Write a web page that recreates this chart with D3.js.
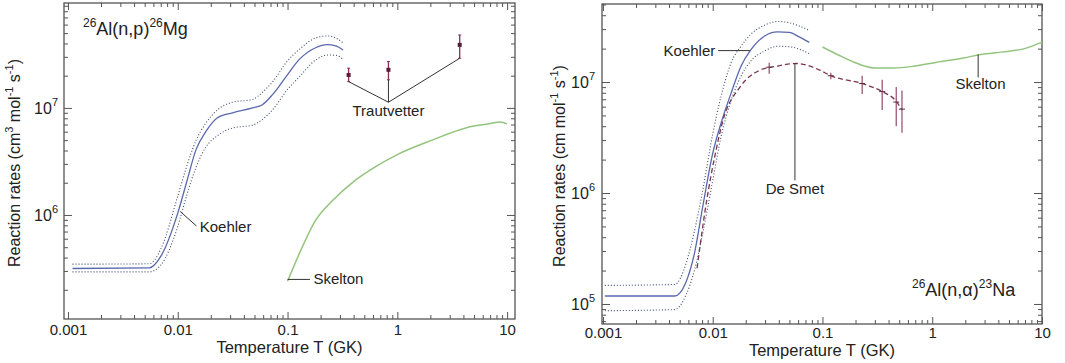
<!DOCTYPE html>
<html>
<head>
<meta charset="utf-8">
<script src="https://cdn.jsdelivr.net/npm/d3@7"></script>
<style>
  body { margin: 0; background: #fff; }
  svg { display: block; font-family: "Liberation Sans", Arial, Helvetica, sans-serif; }
</style>
</head>
<body>
<svg id="chart" width="1065" height="363"></svg>
<script>
// ---- axis ticks ----
const tempTicks = [0.001, 0.01, 0.1, 1, 10];
const tempTickLabels = ['0.001', '0.01', '0.1', '1', '10'];

// ---- 26Al(n,p)26Mg ----
const npKoehlerT = [0.0011, 0.0055, 0.007, 0.01, 0.012, 0.0147, 0.018, 0.023, 0.0316, 0.048, 0.059, 0.073, 0.1, 0.128, 0.18, 0.23, 0.275, 0.32];
const npKoehlerRate = [3.16e5, 3.2e5, 4.1e5, 1.04e6, 2.0e6, 4.1e6, 6.0e6, 8.1e6, 9.0e6, 1.0e7, 1.07e7, 1.33e7, 2.05e7, 2.84e7, 3.65e7, 3.9e7, 3.8e7, 3.47e7];
const npKoehlerHigh = [3.47e5, 3.5e5, 4.8e5, 1.5e6, 2.8e6, 5.0e6, 7.2e6, 9.6e6, 1.13e7, 1.2e7, 1.4e7, 1.75e7, 2.75e7, 3.52e7, 4.5e7, 4.7e7, 4.5e7, 4.05e7];
const npKoehlerLow = [2.94e5, 2.94e5, 3.4e5, 7.8e5, 1.5e6, 2.8e6, 4.3e6, 5.5e6, 6.5e6, 6.9e6, 7.8e6, 9.6e6, 1.49e7, 1.95e7, 2.8e7, 3.12e7, 3.1e7, 2.84e7];
const npSkeltonT = [0.1, 0.128, 0.18, 0.26, 0.4, 0.64, 1.03, 2.07, 4.2, 6.8, 8.7, 10];
const npSkeltonRate = [2.4e5, 4.35e5, 8.9e5, 1.38e6, 2.05e6, 2.84e6, 3.72e6, 5.0e6, 6.5e6, 7.1e6, 7.4e6, 7.1e6];
const npTrautT = [0.36, 0.83, 3.7];
const npTrautRate = [2.03e7, 2.27e7, 3.88e7];
const npTrautLow = [1.76e7, 1.83e7, 2.91e7];
const npTrautHigh = [2.35e7, 2.71e7, 4.8e7];

// ---- 26Al(n,a)23Na ----
const naKoehlerT = [0.00104, 0.0045, 0.0057, 0.0068, 0.0081, 0.01, 0.0119, 0.0147, 0.0181, 0.0223, 0.0295, 0.039, 0.0498, 0.0614, 0.0757];
const naKoehlerRate = [1.18e5, 1.18e5, 1.57e5, 2.83e5, 7.5e5, 2.28e6, 4.25e6, 7.95e6, 1.39e7, 1.96e7, 2.59e7, 2.83e7, 2.8e7, 2.55e7, 2.28e7];
const naKoehlerHigh = [1.47e5, 1.5e5, 2.3e5, 4.5e5, 1.05e6, 3.4e6, 7.4e6, 1.49e7, 2.1e7, 2.7e7, 3.25e7, 3.51e7, 3.42e7, 3.2e7, 2.93e7];
const naKoehlerLow = [8.7e4, 8.9e4, 1.2e5, 2.0e5, 4.3e5, 1.3e6, 3.2e6, 6.8e6, 1.13e7, 1.55e7, 1.9e7, 2.1e7, 2.08e7, 1.98e7, 1.8e7];
const naDeSmetT = [0.0072, 0.0088, 0.0105, 0.0124, 0.0177, 0.0269, 0.0369, 0.058, 0.0946, 0.119, 0.23, 0.35, 0.47, 0.53];
const naDeSmetRate = [2.1e5, 8.5e5, 2.2e6, 4.5e6, 9.0e6, 1.28e7, 1.38e7, 1.47e7, 1.28e7, 1.14e7, 9.7e6, 8.2e6, 6.7e6, 5.6e6];
const naDeSmetErrT = [0.0327, 0.119, 0.23, 0.35, 0.47, 0.53];
const naDeSmetErrRate = [1.36e7, 1.14e7, 9.7e6, 8.2e6, 6.6e6, 5.7e6];
const naDeSmetErrLow = [1.19e7, 1.06e7, 7.8e6, 5.6e6, 4.0e6, 3.5e6];
const naDeSmetErrHigh = [1.49e7, 1.21e7, 1.14e7, 1.05e7, 9.0e6, 8.4e6];
const naSkeltonT = [0.1, 0.137, 0.194, 0.295, 0.45, 0.68, 1.1, 1.94, 2.75, 4.4, 6.8, 10];
const naSkeltonRate = [2.07e7, 1.77e7, 1.51e7, 1.34e7, 1.34e7, 1.39e7, 1.51e7, 1.65e7, 1.77e7, 1.87e7, 1.99e7, 2.29e7];

const zip = (xs, ys) => xs.map((v, i) => [v, ys[i]]);

const panels = [
  {
    left: 64, right: 515, top: 3, bottom: 319,
    xDomain: [0.00092, 11.8], yDomain: [1.067e5, 9.55e7],
    xPad: 5, yLabelGap: 6, xTitleY: 353, yTitleX: 20,
    yTitle: [['Reaction rates (cm', 0], ['3', 1], [' mol', 0], ['-1', 1], [' s', 0], ['-1', 1], [')', 0]],
    title: { x: 83, y: 35, parts: [['26', 1], ['Al(n,p)', 0], ['26', 1], ['Mg', 0]] },
    lines: [
      { pts: zip(npKoehlerT, npKoehlerHigh), color: '#3f4a6e', width: 1.1, dash: '1,2' },
      { pts: zip(npKoehlerT, npKoehlerLow), color: '#3f4a6e', width: 1.1, dash: '1,2' },
      { pts: zip(npKoehlerT, npKoehlerRate), color: '#5a68ad', width: 1.3 },
      { pts: zip(npSkeltonT, npSkeltonRate), color: '#93c47d', width: 1.5 }
    ],
    errors: { t: npTrautT, r: npTrautRate, lo: npTrautLow, hi: npTrautHigh, color: '#8a2e55', dot: true },
    notes: [
      { text: 'Koehler', at: [0.0152, 7.8e5], anchor: 'start', dy: 5, lines: [[[0.0105, 1.08e6], [0.0148, 7.9e5]]] },
      { text: 'Skelton', at: [0.165, 2.5e5], anchor: 'start', dy: 5, lines: [[[0.1, 2.5e5], [0.16, 2.5e5]]] },
      { text: 'Trautvetter', at: [0.83, 1.13e7], anchor: 'middle', dy: 14,
        lines: [[[0.36, 1.76e7], [0.83, 1.13e7]], [[0.83, 1.83e7], [0.83, 1.13e7]], [[3.7, 2.91e7], [0.83, 1.13e7]]] }
    ]
  },
  {
    left: 602, right: 1042, top: 4, bottom: 324,
    xDomain: [0.00098, 10], yDomain: [6.6e4, 5.05e7],
    xPad: 3, yLabelGap: 7, xTitleY: 356, yTitleX: 565,
    yTitle: [['Reaction rates (cm mol', 0], ['-1', 1], [' s', 0], ['-1', 1], [')', 0]],
    title: { x: 912, y: 296, parts: [['26', 1], ['Al(n,\u03b1)', 0], ['23', 1], ['Na', 0]] },
    lines: [
      { pts: zip(naKoehlerT, naKoehlerHigh), color: '#3f4a6e', width: 1.1, dash: '1,2' },
      { pts: zip(naKoehlerT, naKoehlerLow), color: '#3f4a6e', width: 1.1, dash: '1,2' },
      { pts: zip(naKoehlerT, naKoehlerRate), color: '#5a68ad', width: 1.3 },
      { pts: zip(naDeSmetT, naDeSmetRate), color: '#7a3450', width: 1.3, dash: '5,3' },
      { pts: zip(naSkeltonT, naSkeltonRate), color: '#93c47d', width: 1.5 }
    ],
    errors: { t: naDeSmetErrT, r: naDeSmetErrRate, lo: naDeSmetErrLow, hi: naDeSmetErrHigh, color: '#9a5a78', dot: false },
    notes: [
      { text: 'Koehler', at: [0.011, 1.92e7], anchor: 'end', dy: 5, lines: [[[0.0218, 1.92e7], [0.0112, 1.92e7]]] },
      { text: 'De Smet', at: [0.0561, 1.3e6], anchor: 'middle', dy: 14, lines: [[[0.0561, 1.47e7], [0.0561, 1.3e6]]] },
      { text: 'Skelton', at: [2.75, 1.1e7], anchor: 'middle', dy: 12, lines: [[[2.62, 1.77e7], [2.62, 1.1e7]]] }
    ]
  }
];

const svg = d3.select('#chart');

function minorTicks(domain) {
  const out = [];
  for (let e = Math.floor(Math.log10(domain[0])); e <= Math.ceil(Math.log10(domain[1])); e++) {
    for (let m = 2; m <= 9; m++) {
      const v = m * Math.pow(10, e);
      if (v >= domain[0] && v <= domain[1]) out.push(v);
    }
  }
  return out;
}

function majorTicks(domain) {
  const out = [];
  for (let e = Math.ceil(Math.log10(domain[0])); e <= Math.floor(Math.log10(domain[1])); e++) out.push(Math.pow(10, e));
  return out;
}

function addParts(text, parts, big, small) {
  parts.forEach(([s, sup], i) => {
    const prev = i > 0 ? parts[i - 1][1] : 0;
    text.append('tspan')
      .attr('font-size', sup ? small : big)
      .attr('dy', sup === prev ? 0 : (sup ? -big * 0.42 : big * 0.42))
      .text(s);
  });
}

function drawPanel(p) {
  const x = d3.scaleLog().domain(p.xDomain).range([p.left, p.right]);
  const y = d3.scaleLog().domain(p.yDomain).range([p.bottom, p.top]);
  const g = svg.append('g');

  const xMinor = minorTicks(p.xDomain).filter(v => v <= 10);
  const yMajor = majorTicks(p.yDomain);
  const yMinor = minorTicks(p.yDomain);

  const axes = [
    [d3.axisBottom(x).tickValues(tempTicks).tickFormat((d, i) => tempTickLabels[i]).tickSize(-7).tickPadding(p.xPad), `translate(0,${p.bottom})`],
    [d3.axisBottom(x).tickValues(xMinor).tickFormat('').tickSize(-4), `translate(0,${p.bottom})`],
    [d3.axisTop(x).tickValues(tempTicks).tickFormat('').tickSize(-7), `translate(0,${p.top})`],
    [d3.axisTop(x).tickValues(xMinor).tickFormat('').tickSize(-4), `translate(0,${p.top})`],
    [d3.axisLeft(y).tickValues(yMajor).tickFormat('').tickSize(-8), `translate(${p.left},0)`],
    [d3.axisLeft(y).tickValues(yMinor).tickFormat('').tickSize(-4), `translate(${p.left},0)`],
    [d3.axisRight(y).tickValues(yMajor).tickFormat('').tickSize(-8), `translate(${p.right},0)`],
    [d3.axisRight(y).tickValues(yMinor).tickFormat('').tickSize(-4), `translate(${p.right},0)`]
  ];
  axes.forEach(([ax, tr]) => {
    const a = g.append('g').attr('transform', tr).call(ax.tickSizeOuter(0));
    a.select('.domain').remove();
    a.selectAll('line').attr('stroke', '#555').attr('stroke-width', 1);
    a.selectAll('text').attr('font-size', 15).attr('font-family', null).attr('fill', '#222');
  });

  // y decade labels 10^n
  yMajor.forEach(v => {
    const t = g.append('text')
      .attr('x', p.left - p.yLabelGap)
      .attr('y', y(v) + 6)
      .attr('text-anchor', 'end')
      .attr('fill', '#222');
    t.append('tspan').attr('font-size', 16).text('10');
    t.append('tspan').attr('font-size', 11).attr('dy', -8).text(Math.round(Math.log10(v)));
  });

  g.append('rect')
    .attr('x', p.left).attr('y', p.top)
    .attr('width', p.right - p.left).attr('height', p.bottom - p.top)
    .attr('fill', 'none').attr('stroke', '#555').attr('stroke-width', 1.3);

  const line = d3.line().x(d => x(d[0])).y(d => y(d[1])).curve(d3.curveMonotoneX);
  p.lines.forEach(l => {
    g.append('path')
      .attr('d', line(l.pts))
      .attr('fill', 'none')
      .attr('stroke', l.color)
      .attr('stroke-width', l.width)
      .attr('stroke-dasharray', l.dash || null);
  });

  const e = p.errors;
  e.t.forEach((t, i) => {
    g.append('line')
      .attr('x1', x(t)).attr('x2', x(t))
      .attr('y1', y(e.lo[i])).attr('y2', y(e.hi[i]))
      .attr('stroke', e.color).attr('stroke-width', 1.3);
    if (e.dot) {
      g.append('rect')
        .attr('x', x(t) - 2).attr('y', y(e.r[i]) - 2)
        .attr('width', 4).attr('height', 4)
        .attr('fill', '#5a1a3a');
      [e.lo[i], e.hi[i]].forEach(v => g.append('line')
        .attr('x1', x(t) - 1.5).attr('x2', x(t) + 1.5)
        .attr('y1', y(v)).attr('y2', y(v))
        .attr('stroke', e.color).attr('stroke-width', 1));
    } else {
      g.append('line')
        .attr('x1', x(t) - 3).attr('x2', x(t) + 3)
        .attr('y1', y(e.r[i])).attr('y2', y(e.r[i]))
        .attr('stroke', '#5a2a40').attr('stroke-width', 1);
    }
  });

  p.notes.forEach(n => {
    n.lines.forEach(seg => {
      g.append('line')
        .attr('x1', x(seg[0][0])).attr('y1', y(seg[0][1]))
        .attr('x2', x(seg[1][0])).attr('y2', y(seg[1][1]))
        .attr('stroke', '#333').attr('stroke-width', 1);
    });
    g.append('text')
      .attr('x', x(n.at[0]) + (n.anchor === 'start' ? 2 : n.anchor === 'end' ? -2 : 0))
      .attr('y', y(n.at[1]) + n.dy)
      .attr('text-anchor', n.anchor)
      .attr('font-size', 15)
      .attr('fill', '#222')
      .text(n.text);
  });

  // titles
  g.append('text')
    .attr('x', (p.left + p.right) / 2).attr('y', p.xTitleY)
    .attr('text-anchor', 'middle').attr('font-size', 16.5).attr('fill', '#222')
    .text('Temperature T (GK)');

  const yt = g.append('text')
    .attr('transform', `translate(${p.yTitleX},${(p.top + p.bottom) / 2 + 2}) rotate(-90)`)
    .attr('text-anchor', 'middle').attr('fill', '#222');
  addParts(yt, p.yTitle, 16, 11);

  const tt = g.append('text')
    .attr('x', p.title.x).attr('y', p.title.y).attr('fill', '#222');
  addParts(tt, p.title.parts, 18, 12);
}

panels.forEach(drawPanel);
</script>
</body>
</html>
